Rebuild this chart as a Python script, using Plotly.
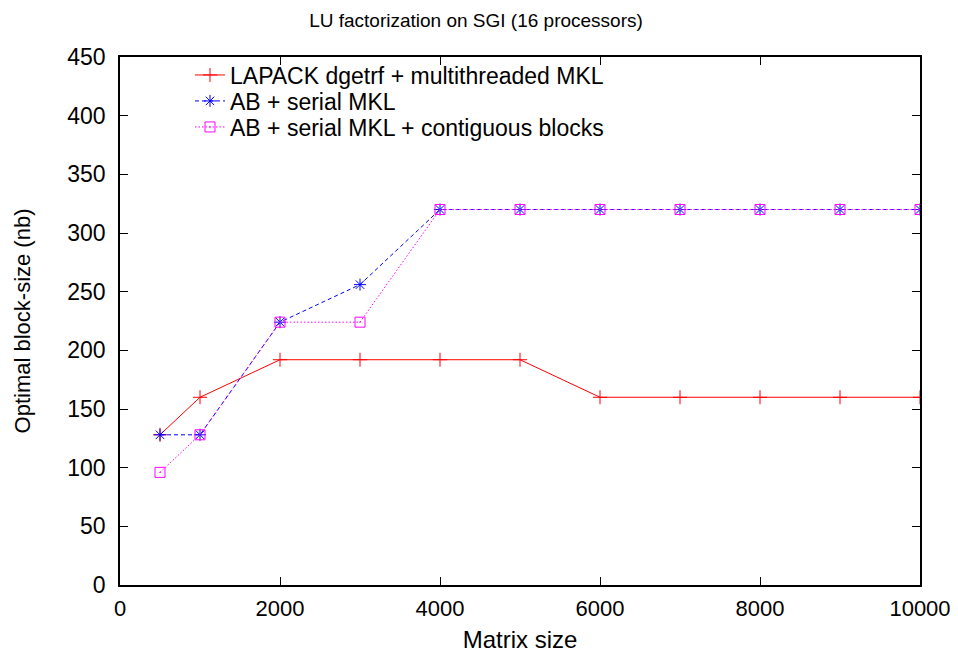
import plotly.graph_objects as go

x = [500, 1000, 2000, 3000, 4000, 5000, 6000, 7000, 8000, 9000, 10000]
lapack = [128, 160, 192, 192, 192, 192, 160, 160, 160, 160, 160]
ab_serial = [128, 128, 224, 256, 320, 320, 320, 320, 320, 320, 320]
ab_contig = [96, 128, 224, 224, 320, 320, 320, 320, 320, 320, 320]

names = ["LAPACK dgetrf + multithreaded MKL", "AB + serial MKL",
         "AB + serial MKL + contiguous blocks"]

fig = go.Figure()
fig.add_trace(go.Scatter(x=x, y=lapack, name=names[0], mode="lines+markers", legend="legend",
                         line=dict(color="#ff0000", width=1, dash="solid"),
                         marker=dict(symbol="cross-thin", size=10, color="#ff0000",
                                     line=dict(color="#ff0000", width=1))))
fig.add_trace(go.Scatter(x=x, y=ab_serial, name=names[1], mode="lines+markers", legend="legend2",
                         line=dict(color="#0000ff", width=1, dash="4px,3px"),
                         marker=dict(symbol="asterisk-open", size=10, color="#0000ff",
                                     line=dict(color="#0000ff", width=1))))
fig.add_trace(go.Scatter(x=x, y=ab_contig, name=names[2], mode="lines+markers", legend="legend3",
                         line=dict(color="#ff00ff", width=1, dash="1.5px,2px"),
                         marker=dict(symbol="square-open-dot", size=10, color="#ff00ff",
                                     line=dict(color="#ff00ff", width=1))))

axis_common = dict(showgrid=False, zeroline=False, showline=True, linecolor="black",
                   linewidth=1.5, mirror="ticks", ticks="inside", ticklen=8,
                   tickcolor="black")

leg_common = dict(x=0.0875, xanchor="left", yanchor="middle", bgcolor="rgba(0,0,0,0)",
                  font=dict(size=23), borderwidth=0)

fig.update_layout(
    width=958, height=660,
    paper_bgcolor="white", plot_bgcolor="white",
    font=dict(family="Liberation Sans, Arial, sans-serif", color="black"),
    title=dict(text="LU factorization on SGI (16 processors)", x=0.4885, xanchor="center",
               y=0.982, yanchor="middle", font=dict(size=19)),
    margin=dict(l=112, r=46, t=49, b=83),
    xaxis=dict(range=[0, 10000], dtick=2000, tickformat="d", ticklabelstandoff=3,
               tickfont=dict(size=22, color="black"),
               title=dict(text="Matrix size", font=dict(size=24), standoff=11),
               **axis_common),
    yaxis=dict(range=[0, 450], dtick=50, tickformat="d", ticklabelstandoff=8,
               tickfont=dict(size=23, color="black"),
               title=dict(text="Optimal block-size (nb)", font=dict(size=22), standoff=31),
               **axis_common),
    legend=dict(y=0.9659, **leg_common),
    legend2=dict(y=0.9167, **leg_common),
    legend3=dict(y=0.8674, **leg_common),
    showlegend=True,
)

fig.write_html("out.html")
